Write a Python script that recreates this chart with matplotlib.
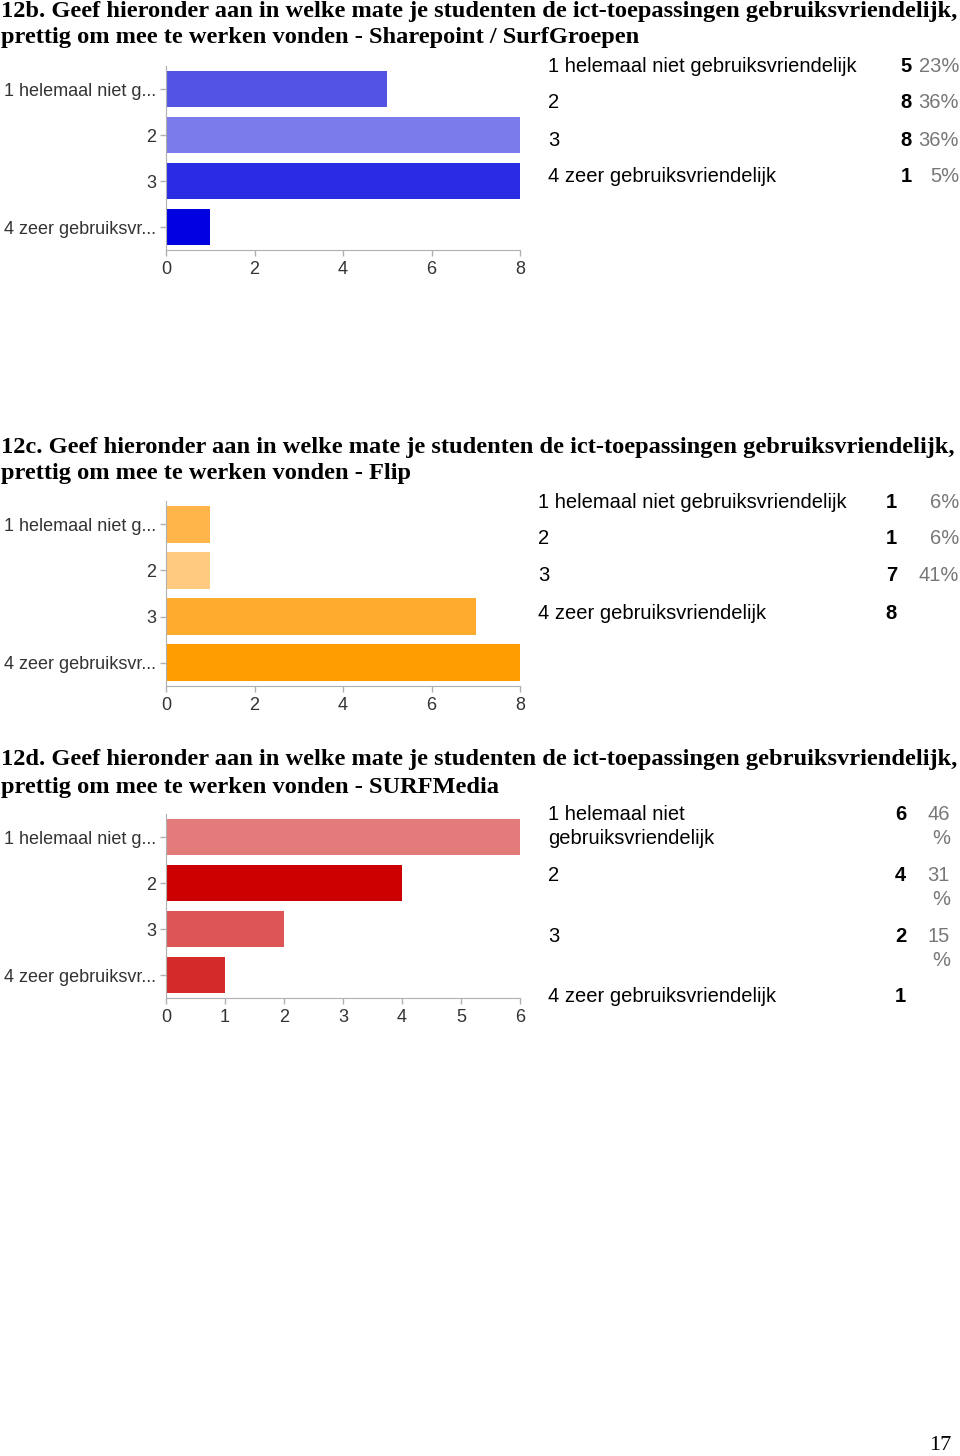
import matplotlib
matplotlib.use("Agg")
import matplotlib.pyplot as plt

W, H = 960, 1456

categories = ["1 helemaal niet g...", "2", "3", "4 zeer gebruiksvr..."]
table_labels = ["1 helemaal niet gebruiksvriendelijk", "2", "3", "4 zeer gebruiksvriendelijk"]
table_labels_d = ["1 helemaal niet\ngebruiksvriendelijk", "2", "3", "4 zeer gebruiksvriendelijk"]

title_line1 = "Geef hieronder aan in welke mate je studenten de ict-toepassingen gebruiksvriendelijk,"
title_line2 = "prettig om mee te werken vonden - "
numbers = ["12b.", "12c.", "12d."]
subjects = ["Sharepoint / SurfGroepen", "Flip", "SURFMedia"]

counts_b = [5, 8, 8, 1]
pct_b = ["23%", "36%", "36%", "5%"]
colors_b = ["#5454e4", "#7b7bec", "#2b2be4", "#0000e0"]

counts_c = [1, 1, 7, 8]
pct_c = ["6%", "6%", "41%", ""]
colors_c = ["#ffb54a", "#ffcb80", "#ffab2e", "#ff9c00"]

counts_d = [6, 4, 2, 1]
pct_d = ["46", "31", "15", ""]
colors_d = ["#e37b7b", "#cc0000", "#dd5555", "#d52a2a"]

fig = plt.figure(figsize=(W / 100, H / 100), dpi=100)


def px_axes(x0, y0, x1, y1):
    return fig.add_axes([x0 / W, 1 - y1 / H, (x1 - x0) / W, (y1 - y0) / H])


def ftext(x, y, s, **kw):
    fig.text(x / W, 1 - y / H, s, **kw)


def bar_chart(top, bottom, counts, colors, xmax, xticks):
    ax = px_axes(166, top, 520, bottom)
    ypos = list(range(len(counts)))
    ax.barh(ypos, counts, height=0.8, color=colors)
    ax.set_xlim(0, xmax)
    ax.set_ylim(len(counts) - 0.5, -0.5)
    ax.set_yticks(ypos)
    ax.set_yticklabels(categories, fontsize=13, color="#333333", family="Liberation Sans")
    ax.set_xticks(xticks)
    ax.set_xticklabels([str(t) for t in xticks], fontsize=13, color="#333333",
                       family="Liberation Sans")
    for s in ["top", "right"]:
        ax.spines[s].set_visible(False)
    for s in ["left", "bottom"]:
        ax.spines[s].set_color("#b0b0b0")
    ax.tick_params(axis="both", colors="#b0b0b0", length=4, width=1, labelcolor="#333333")
    ax.tick_params(axis="y", pad=3)
    ax.tick_params(axis="x", pad=4)
    return ax


def title(y, k):
    kw = dict(fontsize=17.6, fontweight="bold", family="Liberation Serif",
              va="center", ha="left")
    ftext(1, y, numbers[k] + " " + title_line1, **kw)
    ftext(1, y + 27, title_line2 + subjects[k], **kw)


def table(y0, dy, xlab, xnum, xpct, labels, counts, pcts, split_pct=False):
    for i, (lab, n, p) in enumerate(zip(labels, counts, pcts)):
        y = y0 + dy * i
        for j, line in enumerate(lab.split("\n")):
            ftext(xlab, y + 24 * j, line, fontsize=14.5, family="Liberation Sans",
                  va="center")
        ftext(xnum, y, str(n), fontsize=14.5, family="Liberation Sans",
              fontweight="bold", va="center", ha="right")
        if p:
            ftext(xpct, y, p, fontsize=14.5, family="Liberation Sans", color="#777777",
                  va="center", ha="right")
            if split_pct:
                ftext(xpct, y + 24, "%", fontsize=14.5, family="Liberation Sans",
                      color="#777777", va="center", ha="right")


# 12b
title(11, 0)
bar_chart(66, 250, counts_b, colors_b, 8, [0, 2, 4, 6, 8])
table(66, 37, 548, 912, 959, table_labels, counts_b, pct_b)

# 12c
title(447, 1)
bar_chart(501, 686, counts_c, colors_c, 8, [0, 2, 4, 6, 8])
table(502, 37, 538, 897, 959, table_labels, counts_c, pct_c)

# 12d
title(760, 2)
bar_chart(814, 998, counts_d, colors_d, 6, [0, 1, 2, 3, 4, 5, 6])
table(815, 60.5, 548, 906, 950, table_labels_d, counts_d, pct_d, split_pct=True)

ftext(951, 1446, "17", fontsize=16, family="Liberation Serif", va="center", ha="right")

fig.savefig("out.png", dpi=100, facecolor="white")
